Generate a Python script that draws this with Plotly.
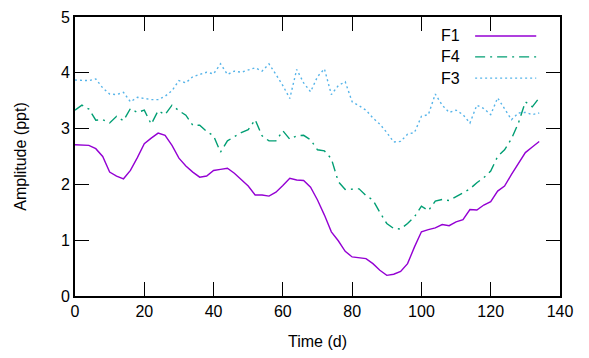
import plotly.graph_objects as go

days = list(range(0, 136, 2))

f1 = [2.71, 2.71, 2.70, 2.64, 2.50, 2.22, 2.15, 2.10, 2.25, 2.48,
      2.73, 2.83, 2.92, 2.88, 2.70, 2.47, 2.33, 2.22, 2.13, 2.15,
      2.25, 2.27, 2.29, 2.20, 2.08, 1.97, 1.81, 1.81, 1.79, 1.86,
      1.98, 2.11, 2.08, 2.07, 1.95, 1.72, 1.45, 1.15, 0.99, 0.80,
      0.70, 0.69, 0.67, 0.58, 0.46, 0.37, 0.39, 0.44, 0.58, 0.88,
      1.15, 1.19, 1.22, 1.28, 1.26, 1.33, 1.37, 1.55, 1.54, 1.63,
      1.69, 1.88, 1.97, 2.18, 2.37, 2.57, 2.67, 2.77]

f4 = [3.33, 3.42, 3.35, 3.15, 3.16, 3.10, 3.22, 3.14, 3.36, 3.29,
      3.33, 3.08, 3.32, 3.25, 3.42, 3.32, 3.24, 3.06, 3.06, 2.95,
      2.87, 2.58, 2.78, 2.85, 2.93, 2.98, 3.16, 2.87, 2.78, 2.78,
      2.96, 2.81, 2.87, 2.88, 2.80, 2.62, 2.60, 2.46, 2.05, 1.91,
      1.92, 1.92, 1.80, 1.72, 1.50, 1.30, 1.21, 1.20, 1.30, 1.42,
      1.61, 1.53, 1.70, 1.73, 1.71, 1.78, 1.85, 1.92, 2.03, 2.12,
      2.24, 2.50, 2.62, 2.82, 3.10, 3.48, 3.39, 3.55]

f3 = [3.87, 3.86, 3.86, 3.89, 3.73, 3.62, 3.61, 3.65, 3.48, 3.56,
      3.54, 3.52, 3.52, 3.58, 3.68, 3.86, 3.82, 3.93, 3.97, 4.01,
      3.98, 4.16, 3.97, 4.03, 4.01, 4.05, 4.09, 4.03, 4.16, 3.97,
      3.77, 3.54, 4.06, 3.82, 3.66, 3.93, 4.07, 3.61, 3.77, 3.84,
      3.48, 3.41, 3.33, 3.19, 3.08, 2.93, 2.76, 2.77, 2.90, 2.93,
      3.22, 3.25, 3.62, 3.42, 3.29, 3.33, 3.25, 3.10, 3.42, 3.36,
      3.25, 3.55, 3.36, 3.16, 3.28, 3.29, 3.25, 3.28]

series = [
    ("F1", f1, "#9400d3", "solid"),
    ("F4", f4, "#009e73", "10px,5px,2px,5px"),
    ("F3", f3, "#56b4e9", "2px,3px"),
]

x_ticks = [0, 20, 40, 60, 80, 100, 120, 140]
y_ticks = [0, 1, 2, 3, 4, 5]

FS = 16

fig = go.Figure()
for name, vals, color, dash in series:
    fig.add_trace(go.Scatter(x=days, y=vals, mode="lines", name=name,
                             line=dict(color=color, width=1.4, dash=dash),
                             showlegend=False))

# manual gnuplot-style legend (text left, sample right)
leg_y = [0.932, 0.857, 0.781]
for (name, vals, color, dash), yy in zip(series, leg_y):
    fig.add_annotation(x=0.797, y=yy, xref="paper", yref="paper", text=name,
                       showarrow=False, xanchor="right", yanchor="middle",
                       font=dict(size=FS, color="black"))
    fig.add_shape(type="line", xref="paper", yref="paper",
                  x0=0.825, x1=0.951, y0=yy, y1=yy,
                  line=dict(color=color, width=1.4, dash=dash))

axis_common = dict(showline=True, linecolor="black", linewidth=2, mirror="ticks",
                   ticks="inside", ticklen=14, tickwidth=1, tickcolor="black",
                   showgrid=False, zeroline=False,
                   tickfont=dict(size=FS, color="black"))

fig.update_xaxes(range=[0, 140], tickvals=x_ticks,
                 title=dict(text="Time (d)", font=dict(size=FS, color="black"), standoff=17),
                 **axis_common)
fig.update_yaxes(range=[0, 5], tickvals=y_ticks,
                 title=dict(text="Amplitude (ppt)", font=dict(size=FS, color="black"), standoff=30),
                 **axis_common)

# the page body keeps its default 8px margin; margins compensate for that offset
fig.update_layout(template="none", width=589, height=358,
                  margin=dict(l=67, r=37, t=9, b=70),
                  paper_bgcolor="white", plot_bgcolor="white",
                  font=dict(family="Liberation Sans, Arial, sans-serif", color="black"))

fig.write_html("out.html", config={"displayModeBar": False})
